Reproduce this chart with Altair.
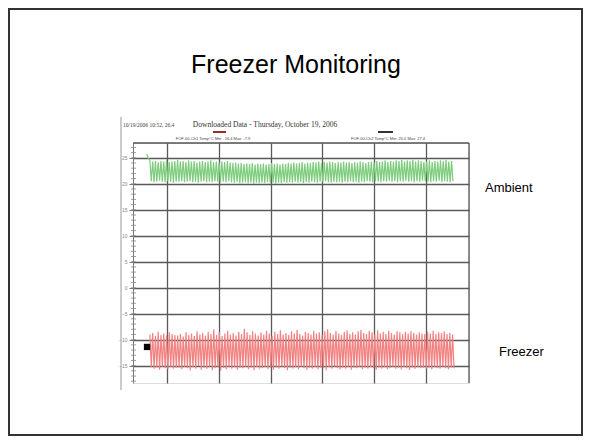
import altair as alt
import pandas as pd

# ---- data ----
green_start = [25.8, 24.9]
green_peaks = [
    24.5, 24.3, 24.4, 24.2, 24.4, 24.3, 24.5, 24.2, 24.3, 24.4,
    24.6, 24.3, 24.4, 24.2, 24.5, 24.3, 24.4, 24.1, 24.3, 24.4,
    24.2, 24.3, 24.5, 24.2, 24.3, 24.1, 24.3, 24.2, 24.4, 24.1,
    24.0, 24.1, 23.9, 24.0, 23.8, 23.9, 23.8, 24.0, 23.7, 23.9,
    23.8, 23.9, 23.7, 23.8, 24.0, 23.8, 23.9, 23.7, 23.9, 23.8,
    24.0, 23.9, 24.1, 23.9, 24.0, 24.2, 23.9, 24.1, 24.0, 24.2,
    24.1, 24.3, 24.0, 24.2, 24.1, 24.3, 24.2, 24.0, 24.2, 24.1,
    24.3, 24.1, 24.2, 24.0, 24.2, 24.1, 24.3, 24.2, 24.0, 24.2,
    24.3, 24.1, 24.4, 24.2, 24.3, 24.5, 24.2, 24.4, 24.3, 24.5,
    24.4, 24.6, 24.3, 24.5, 24.4, 24.6, 24.3, 24.5, 24.4, 24.2,
    24.3, 24.5, 24.2, 24.4, 24.3, 24.5, 24.4, 24.6, 24.3, 24.4,
]
green_troughs = [
    20.5, 20.3, 20.4, 20.6, 20.4, 20.3, 20.5, 20.4, 20.2, 20.4,
    20.4, 20.5, 20.3, 20.4, 20.5, 20.3, 20.4, 20.2, 20.4, 20.5,
    20.3, 20.4, 20.3, 20.5, 20.4, 20.2, 20.4, 20.3, 20.5, 20.3,
    20.2, 20.3, 20.1, 20.2, 20.3, 20.1, 20.2, 20.0, 20.2, 20.1,
    20.2, 20.1, 20.3, 20.1, 20.2, 20.0, 20.2, 20.1, 20.3, 20.2,
    20.3, 20.2, 20.4, 20.2, 20.3, 20.1, 20.3, 20.2, 20.4, 20.3,
    20.2, 20.4, 20.3, 20.5, 20.3, 20.2, 20.4, 20.3, 20.4, 20.2,
    20.4, 20.3, 20.5, 20.3, 20.4, 20.2, 20.4, 20.3, 20.5, 20.4,
    20.3, 20.5, 20.4, 20.3, 20.5, 20.4, 20.6, 20.4, 20.5, 20.3,
    20.5, 20.4, 20.6, 20.4, 20.5, 20.3, 20.5, 20.4, 20.6, 20.5,
    20.4, 20.3, 20.5, 20.4, 20.6, 20.3, 20.5, 20.4, 20.3, 20.5,
]
red_peaks = [
    -9.0, -8.7, -9.3, -8.5, -9.1, -8.8, -9.2, -8.6, -8.9, -9.1,
    -9.2, -8.9, -9.4, -8.6, -9.1, -8.8, -9.3, -8.4, -9.0, -8.7,
    -9.2, -8.5, -8.9, -8.0, -9.1, -8.6, -9.3, -8.8, -8.3, -9.0,
    -8.7, -9.2, -8.5, -8.9, -7.9, -8.6, -9.1, -8.4, -8.8, -9.2,
    -8.6, -9.0, -8.3, -8.8, -9.3, -8.5, -8.9, -8.2, -9.0, -8.7,
    -9.1, -8.4, -8.8, -8.1, -8.9, -9.2, -8.5, -8.7, -9.0, -8.3,
    -8.8, -8.6, -9.1, -8.4, -8.0, -8.7, -9.0, -8.3, -8.8, -9.1,
    -8.5, -8.2, -8.9, -8.6, -9.0, -8.4, -8.1, -8.7, -8.9, -8.3,
    -8.6, -9.0, -8.2, -8.8, -8.5, -8.9, -8.3, -8.7, -9.0, -8.4,
    -8.6, -8.9, -8.5, -8.8, -8.4, -8.7, -9.0, -8.6, -8.8, -8.9,
    -8.5, -8.8, -8.3, -8.9, -8.6, -8.7, -8.4, -8.9, -8.7, -9.0,
]
red_troughs = [
    -15.3, -15.6, -15.4, -15.8, -15.2, -15.5, -15.7, -15.3, -15.6, -15.4,
    -15.4, -15.7, -15.2, -15.5, -15.9, -15.3, -15.6, -15.1, -15.8, -15.4,
    -15.6, -15.2, -15.9, -15.5, -15.3, -16.0, -15.4, -15.7, -15.2, -15.6,
    -15.3, -15.8, -15.4, -15.5, -15.2, -15.7, -15.4, -15.9, -15.3, -15.6,
    -15.5, -15.2, -15.7, -15.4, -15.8, -15.3, -15.6, -15.2, -15.5, -15.9,
    -15.4, -15.6, -15.3, -15.7, -15.2, -15.5, -15.8, -15.4, -15.6, -15.3,
    -15.7, -15.4, -15.5, -15.9, -15.3, -15.6, -15.2, -15.5, -15.7, -15.4,
    -15.6, -15.3, -15.8, -15.4, -15.5, -15.2, -15.7, -15.4, -15.6, -15.3,
    -15.5, -15.8, -15.4, -15.6, -15.3, -15.7, -15.5, -15.2, -15.6, -15.4,
    -15.7, -15.3, -15.5, -15.8, -15.4, -15.6, -15.3, -15.5, -15.4, -15.6,
    -15.4, -15.7, -15.3, -15.5, -15.6, -15.2, -15.5, -15.7, -15.4, -15.5,
]
marker_x = [-0.385]
marker_y = [-11.4]
y_ticks = [-15, -10, -5, 0, 5, 10, 15, 20, 25]
x_grid = [0, 1, 2, 3, 4, 5]
minor_ticks = list(range(-18, 28))

# time axis (days), regular sampling
GREEN_X0, GREEN_X1 = -0.33, 5.52
RED_X0, RED_X1 = -0.33, 5.54


def zigzag(name, peaks, troughs, x0, x1, start=None, start_x=None):
    rows = []
    if start:
        for xv, v in zip(start_x, start):
            rows.append({"series": name, "t": xv, "temp": v})
    n = 2 * len(peaks)
    step = (x1 - x0) / (n - 1)
    k = 0
    for p, tr in zip(peaks, troughs):
        rows.append({"series": name, "t": x0 + k * step, "temp": p}); k += 1
        rows.append({"series": name, "t": x0 + k * step, "temp": tr}); k += 1
    return rows


green_df = pd.DataFrame(zigzag("Ambient", green_peaks, green_troughs, GREEN_X0, GREEN_X1,
                               green_start, [-0.39, -0.36]))
red_df = pd.DataFrame(zigzag("Freezer", red_peaks, red_troughs, RED_X0, RED_X1))
marker_df = pd.DataFrame({"t": marker_x, "temp": marker_y})
minor_df = pd.DataFrame({"v": minor_ticks})

W, H = 336, 240
xs = alt.Scale(domain=[-0.656, 5.83], nice=False, zero=False)
ys = alt.Scale(domain=[-18.34, 27.85], nice=False, zero=False)

xaxis = alt.Axis(values=x_grid, grid=True, labels=False, ticks=False, domain=False,
                 title=None, gridColor="#5a5a5a", gridWidth=1.3)
yaxis = alt.Axis(values=y_ticks, grid=True, title=None, format="d",
                 labelFontSize=5, labelColor="#888", labelFont="Liberation Sans",
                 labelPadding=2, tickSize=4, tickColor="#777", domainColor="#777",
                 gridColor="#5a5a5a", gridWidth=1.3)

green = alt.Chart(green_df).mark_line(color="#7ccc7c", strokeWidth=1.2).encode(
    x=alt.X("t:Q", scale=xs, axis=xaxis),
    y=alt.Y("temp:Q", scale=ys, axis=yaxis),
)
red = alt.Chart(red_df).mark_line(color="#f28282", strokeWidth=1.2).encode(
    x=alt.X("t:Q", scale=xs, axis=xaxis),
    y=alt.Y("temp:Q", scale=ys, axis=yaxis),
)
marker = alt.Chart(marker_df).mark_square(color="black", size=40, opacity=1).encode(
    x=alt.X("t:Q", scale=xs, axis=xaxis),
    y=alt.Y("temp:Q", scale=ys, axis=yaxis),
)
minor = alt.Chart(minor_df).mark_rule(color="#888", strokeWidth=0.8).encode(
    x=alt.value(-2), x2=alt.value(3),
    y=alt.Y("v:Q", scale=ys, axis=yaxis),
)

base = alt.Chart(pd.DataFrame({"a": [0]}))
top_border = base.mark_rule(color="#555", strokeWidth=1.3).encode(
    x=alt.value(0), x2=alt.value(W), y=alt.value(0))
right_border = base.mark_rule(color="#555", strokeWidth=1.3).encode(
    x=alt.value(W), y=alt.value(0), y2=alt.value(H))
frame_left = base.mark_rule(color="#999", strokeWidth=1).encode(
    x=alt.value(-12), y=alt.value(-26), y2=alt.value(247))
slide = base.mark_rect(fill=None, stroke="#333", strokeWidth=2).encode(
    x=alt.value(-124), x2=alt.value(449), y=alt.value(-134), y2=alt.value(292))
red_bar = base.mark_rule(color="#9b2a2a", strokeWidth=2).encode(
    x=alt.value(80), x2=alt.value(93), y=alt.value(-11))
dark_bar = base.mark_rule(color="#333", strokeWidth=2).encode(
    x=alt.value(245), x2=alt.value(260), y=alt.value(-11))


def label(txt, x, y, size, font="Liberation Sans", align="left", color="black", baseline="alphabetic"):
    return base.mark_text(text=txt, font=font, fontSize=size, align=align, color=color,
                          baseline=baseline).encode(x=alt.value(x), y=alt.value(y))


title = label("Freezer Monitoring", 163, -70, 25, align="center")
ambient = label("Ambient", 352, 45, 13, baseline="middle")
freezer = label("Freezer", 366, 209, 13, baseline="middle")
stamp = label("10/19/2006 10:52, 26.4", -10, -16, 5.5, font="Liberation Serif", color="#444")
head = label("Downloaded Data - Thursday, October 19, 2006", 132, -16, 7.5,
             font="Liberation Serif", align="center", color="#333")
ch1 = label("FOF-00-Ch1 Temp°C Min: -16.4 Max: -7.9", 80, -3.5, 4, align="center", color="#444")
ch2 = label("FOF-00-Ch2 Temp°C Min: 20.0 Max: 27.4", 255, -3.5, 4, align="center", color="#444")

chart = alt.layer(
    green, red, marker, minor, top_border, right_border, frame_left, slide,
    red_bar, dark_bar, title, ambient, freezer, stamp, head, ch1, ch2,
).properties(
    width=W, height=H,
    padding={"left": 125, "top": 135, "right": 114, "bottom": 53},
    autosize=alt.AutoSizeParams(type="none"),
).configure_view(stroke=None).configure(background="white")

chart.save("out.html", embed_options={"renderer": "svg", "actions": False})
